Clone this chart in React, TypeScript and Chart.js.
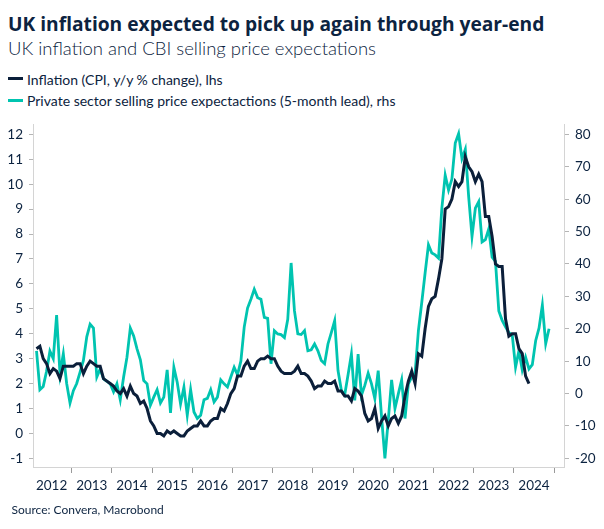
import React, { useEffect, useRef } from 'react';
import { Chart, registerables } from 'chart.js';

Chart.register(...registerables);

// Month index 0 = Jan 2012; both series start Feb 2012 (index 1)
const firstMonthIndex = 1;

const yearLabels = ['2012', '2013', '2014', '2015', '2016', '2017', '2018', '2019', '2020', '2021', '2022', '2023', '2024'];

// UK CPI, y/y % change (lhs), Feb 2012 – May 2024
const cpiValues = [
  3.4, 3.5, 3.0, 2.8, 2.4, 2.6, 2.5, 2.2, 2.7, 2.7, 2.7,
  2.7, 2.8, 2.8, 2.4, 2.7, 2.9, 2.8, 2.7, 2.7, 2.2, 2.1, 2.0,
  1.9, 1.7, 1.6, 1.8, 1.5, 1.9, 1.6, 1.5, 1.2, 1.3, 1.0, 0.5,
  0.3, 0.0, 0.0, -0.1, 0.1, 0.0, 0.1, 0.0, -0.1, -0.1, 0.1, 0.2,
  0.3, 0.3, 0.5, 0.3, 0.3, 0.5, 0.6, 0.6, 1.0, 0.9, 1.2, 1.6,
  1.8, 2.3, 2.3, 2.7, 2.9, 2.6, 2.6, 2.9, 3.0, 3.0, 3.1, 3.0,
  3.0, 2.7, 2.5, 2.4, 2.4, 2.4, 2.5, 2.7, 2.4, 2.4, 2.3, 2.1,
  1.8, 1.9, 1.9, 2.1, 2.0, 2.0, 2.1, 1.7, 1.7, 1.5, 1.5, 1.3,
  1.8, 1.7, 1.5, 0.8, 0.5, 0.6, 1.0, 0.2, 0.5, 0.7, 0.3, 0.6,
  0.7, 0.4, 0.7, 1.5, 2.1, 2.5, 2.0, 3.2, 3.1, 4.2, 5.1, 5.4,
  5.5, 6.2, 7.0, 9.0, 9.1, 9.4, 10.1, 9.9, 10.1, 11.1, 10.7, 10.5,
  10.1, 10.4, 10.1, 8.7, 8.7, 7.9, 6.8, 6.7, 6.7, 4.6, 3.9, 4.0,
  4.0, 3.4, 3.2, 2.3, 2.0,
];

// CBI private sector selling price expectations, 5-month lead (rhs), Feb 2012 – Nov 2024
const cbiValues = [
  13.2, 1.2, 2.2, 6.9, 13.1, 10.8, 24.2, 6.2, 12.3, 3.1, -2.9,
  0.9, 3.1, 6.6, 10.2, 17.5, 21.4, 20.2, 5.1, 7.6, 4.5, 3.8, 3.0,
  0.5, 3.0, -1.9, 5.1, 11.2, 20.2, 17.8, 13.8, 10.4, 4.0, 3.0, -3.6,
  -1.1, 1.2, -2.9, -1.1, 7.3, -6.0, 8.1, 3.5, -3.2, 2.0, -6.7, 1.2,
  -5.7, -7.7, -6.7, -1.9, -1.5, 1.2, -2.6, -1.1, 4.2, 3.0, 2.0, 5.1,
  8.1, 5.8, 10.0, 20.5, 26.4, 29.1, 32.2, 29.6, 29.1, 23.5, 23.2, 9.2,
  19.4, 18.4, 18.2, 17.3, 22.9, 40.3, 25.5, 18.4, 18.2, 19.4, 13.2, 13.5,
  15.3, 13.2, 10.2, 9.2, 15.3, 18.8, 22.5, 7.1, 1.0, -0.4, 5.8, 12.2,
  -2.1, 12.2, -0.5, 2.5, 6.3, 3.0, -1.6, 7.1, -7.2, -20.0, -8.2, 4.2,
  -4.6, -0.1, 4.2, -7.7, 3.0, 5.1, 6.1, 19.4, 28.1, 37.2, 45.9, 43.4,
  42.8, 41.8, 57.2, 67.4, 62.8, 66.2, 77.3, 80.2, 72.5, 75.4, 60.8, 48.5,
  57.2, 59.2, 46.8, 47.5, 50.8, 42.1, 40.8, 25.5, 22.6, 20.6, 18.8, 18.2,
  8.1, 13.2, 7.3, 11.2, 7.6, 8.9, 16.3, 20.2, 27.3, 15.4, 20.0,
];

const leftTicks = [-1, 0, 1, 2, 3, 4, 5, 6, 7, 8, 9, 10, 11, 12];
const rightTicks = [-20, -10, 0, 10, 20, 30, 40, 50, 60, 70, 80];

const NAVY = '#0b1f3a';
const TEAL = '#00c4b0';
const TEXT = '#0c2340';
const FONT = 'Lato, "Open Sans", sans-serif';
const TITLE_FONT = '"Open Sans", Lato, sans-serif';

function toPoints(values: number[]) {
  return values.map((v, i) => ({ x: firstMonthIndex + i + 0.5, y: v }));
}

export default function App() {
  const canvasRef = useRef<HTMLCanvasElement | null>(null);

  useEffect(() => {
    if (!canvasRef.current) return;
    const tickFont = { family: FONT, size: 13.5 };
    const chart = new Chart(canvasRef.current, {
      type: 'line',
      data: {
        datasets: [
          {
            label: 'Inflation (CPI, y/y % change), lhs',
            data: toPoints(cpiValues),
            borderColor: NAVY,
            borderWidth: 3,
            pointRadius: 0,
            tension: 0,
            yAxisID: 'y',
          },
          {
            label: 'Private sector selling price expectactions (5-month lead), rhs',
            data: toPoints(cbiValues),
            borderColor: TEAL,
            borderWidth: 2.8,
            pointRadius: 0,
            tension: 0,
            yAxisID: 'y1',
          },
        ],
      },
      options: {
        animation: false,
        responsive: false,
        devicePixelRatio: 1,
        layout: { padding: { top: 12, left: 0, right: 0, bottom: 0 } },
        plugins: { legend: { display: false }, tooltip: { enabled: false } },
        scales: {
          x: {
            type: 'linear',
            min: 0.45,
            max: 158.96,
            afterFit: (s: any) => { s.height = 43; },
            afterBuildTicks: (s: any) => {
              const t: any[] = [];
              for (let v = 6; v <= 156; v += 6) t.push({ value: v });
              s.ticks = t;
            },
            ticks: {
              autoSkip: false,
              maxRotation: 0,
              padding: 5,
              font: tickFont,
              color: TEXT,
              callback: (value: any) => {
                const v = Number(value);
                return v % 12 === 6 ? yearLabels[(v - 6) / 12] : '';
              },
            },
            grid: {
              drawOnChartArea: false,
              drawTicks: true,
              tickLength: 6,
              tickColor: (ctx: any) => (ctx.tick && ctx.tick.value % 12 === 0 ? '#9a9a9a' : 'rgba(0,0,0,0)'),
              tickWidth: 1,
            },
            border: { display: true, color: '#d4d4d4', width: 1 },
          },
          y: {
            type: 'linear',
            position: 'left',
            min: -1.347,
            max: 12.41,
            afterFit: (s: any) => { s.width = 33; },
            afterBuildTicks: (s: any) => { s.ticks = leftTicks.map((v) => ({ value: v })); },
            ticks: { autoSkip: false, padding: 6, font: tickFont, color: TEXT },
            grid: { drawOnChartArea: false, drawTicks: true, tickLength: 4, tickColor: '#b5b5b5' },
            border: { display: true, color: '#d4d4d4', width: 1 },
          },
          y1: {
            type: 'linear',
            position: 'right',
            min: -22.67,
            max: 83.16,
            afterFit: (s: any) => { s.width = 40; },
            afterBuildTicks: (s: any) => { s.ticks = rightTicks.map((v) => ({ value: v })); },
            ticks: { autoSkip: false, padding: 6, font: tickFont, color: TEXT },
            grid: { drawOnChartArea: false, drawTicks: true, tickLength: 5, tickColor: '#b5b5b5' },
            border: { display: true, color: '#d4d4d4', width: 1 },
          },
        },
      },
    } as any);
    return () => chart.destroy();
  }, []);

  const abs = (extra: React.CSSProperties): React.CSSProperties => ({
    position: 'absolute',
    whiteSpace: 'nowrap',
    fontFamily: FONT,
    color: TEXT,
    margin: 0,
    ...extra,
  });

  return (
    <div style={{ position: 'absolute', left: 0, top: 0, width: 604, height: 529, background: '#fff', overflow: 'hidden' }}>
      <div style={abs({ left: 8, top: 14, fontSize: 19.2, lineHeight: '19.2px', fontWeight: 700, fontFamily: TITLE_FONT })}>
        UK inflation expected to pick up again through year-end
      </div>
      <div style={abs({ left: 8, top: 38.5, fontSize: 18.5, lineHeight: '18.5px', fontWeight: 300 })}>
        UK inflation and CBI selling price expectations
      </div>
      <div style={abs({ left: 8, top: 77, width: 15, height: 3, background: NAVY })} />
      <div style={abs({ left: 27, top: 72.5, fontSize: 14, lineHeight: '14px' })}>
        Inflation (CPI, y/y % change), lhs
      </div>
      <div style={abs({ left: 8, top: 99, width: 15, height: 3, background: TEAL })} />
      <div style={abs({ left: 27, top: 94.3, fontSize: 14, lineHeight: '14px' })}>
        Private sector selling price expectactions (5-month lead), rhs
      </div>
      <div style={{ position: 'absolute', left: 0, top: 110, width: 604, height: 400 }}>
        <canvas ref={canvasRef} width={604} height={400} style={{ display: 'block', width: 604, height: 400 }} />
      </div>
      <div style={abs({ left: 11.5, top: 504.4, fontSize: 12, lineHeight: '12px' })}>
        Source: Convera, Macrobond
      </div>
    </div>
  );
}
